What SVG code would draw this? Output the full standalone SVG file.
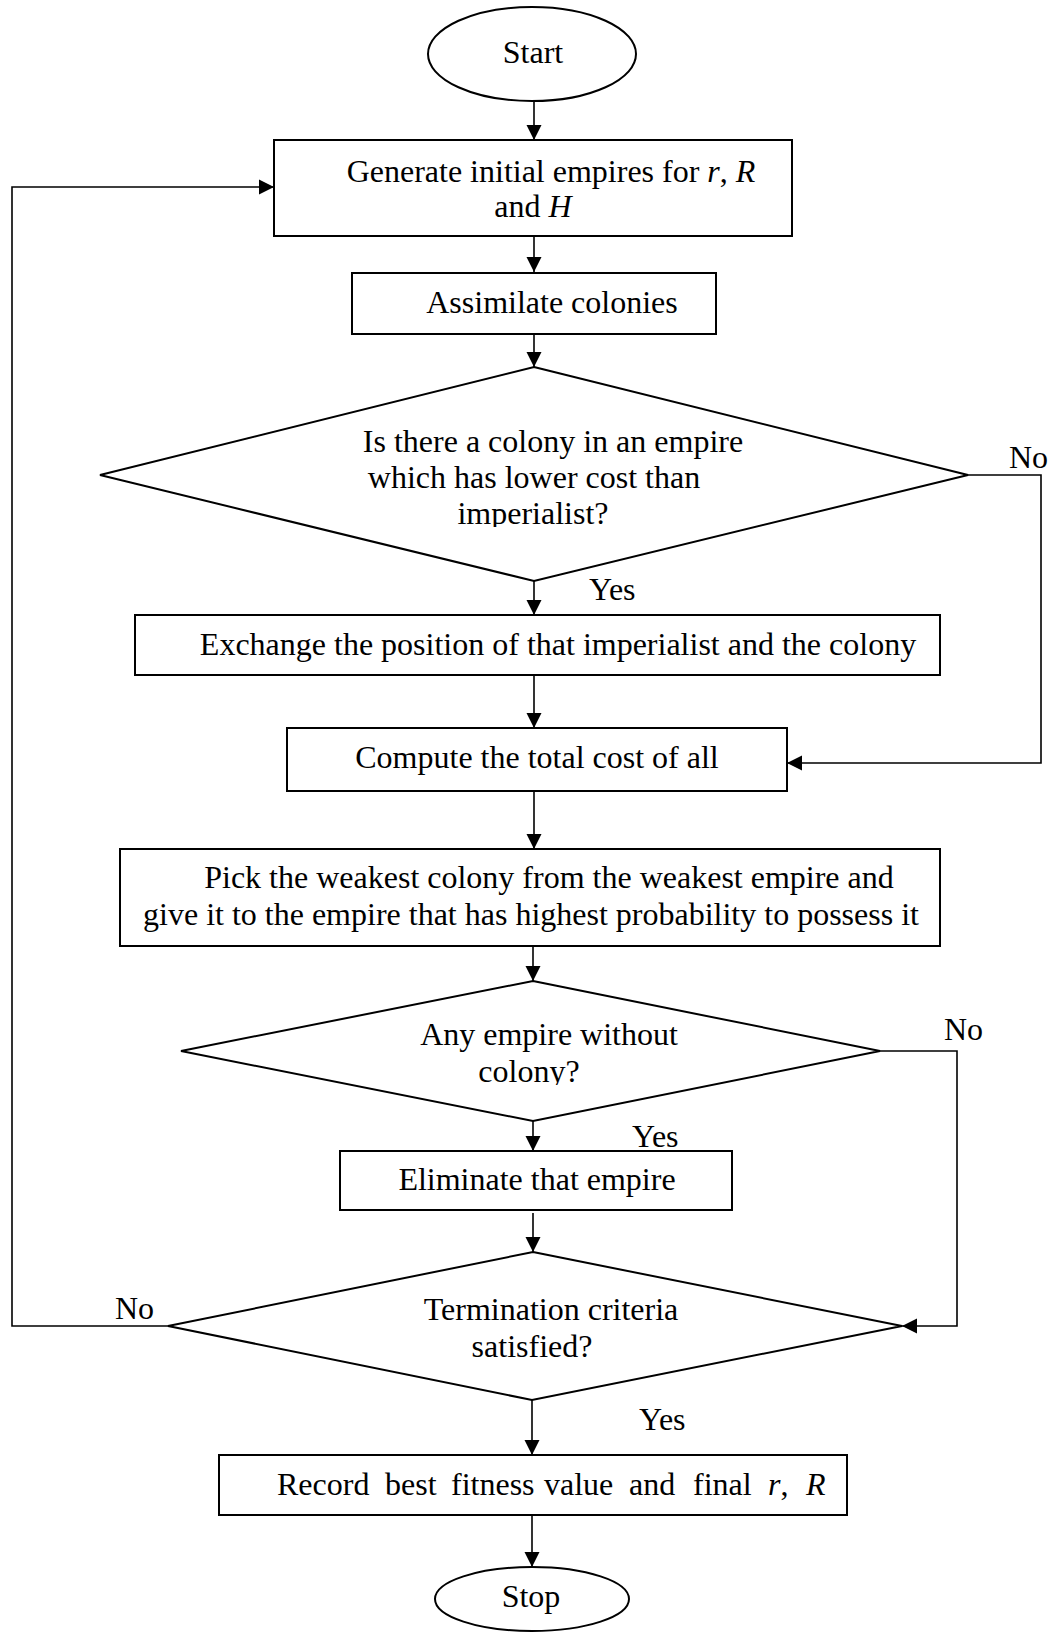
<svg xmlns="http://www.w3.org/2000/svg" width="1054" height="1633" viewBox="0 0 1054 1633">
<style>
.shape{fill:#fff;stroke:#000;stroke-width:2}
.conn{fill:none;stroke:#000;stroke-width:1.6}
text{font-family:"Liberation Serif","Times New Roman",serif;font-size:32px;fill:#000}
.c{text-anchor:middle}
.i{font-style:italic}
</style>
<defs>
<marker id="arr" markerUnits="userSpaceOnUse" markerWidth="16" markerHeight="16" viewBox="0 0 16 16" refX="15" refY="8" orient="auto">
<path d="M0,0.5 L15,8 L0,15.5 Z" fill="#000"/>
</marker>
<clipPath id="clipD1"><rect x="0" y="0" width="1054" height="527"/></clipPath>
<clipPath id="clipD2"><rect x="0" y="0" width="1054" height="1085"/></clipPath>
</defs>
<rect width="1054" height="1633" fill="#fff"/>

<g id="connectors">
<line class="conn" x1="534" y1="101" x2="534" y2="140" marker-end="url(#arr)"/>
<line class="conn" x1="534" y1="236" x2="534" y2="272" marker-end="url(#arr)"/>
<line class="conn" x1="534" y1="334" x2="534" y2="367" marker-end="url(#arr)"/>
<line class="conn" x1="534" y1="581" x2="534" y2="615" marker-end="url(#arr)"/>
<line class="conn" x1="534" y1="675" x2="534" y2="728" marker-end="url(#arr)"/>
<line class="conn" x1="534" y1="791" x2="534" y2="849" marker-end="url(#arr)"/>
<line class="conn" x1="533" y1="946" x2="533" y2="981" marker-end="url(#arr)"/>
<line class="conn" x1="533" y1="1121" x2="533" y2="1151" marker-end="url(#arr)"/>
<line class="conn" x1="533" y1="1213" x2="533" y2="1252" marker-end="url(#arr)"/>
<line class="conn" x1="532" y1="1400" x2="532" y2="1455" marker-end="url(#arr)"/>
<line class="conn" x1="532" y1="1515" x2="532" y2="1567" marker-end="url(#arr)"/>
<polyline class="conn" points="968,475 1041,475 1041,763 787,763" marker-end="url(#arr)"/>
<polyline class="conn" points="880,1051 957,1051 957,1326 902,1326" marker-end="url(#arr)"/>
<polyline class="conn" points="168,1326 12,1326 12,187 274,187" marker-end="url(#arr)"/>
<text x="1009" y="468">No</text>
<text x="589" y="600">Yes</text>
<text x="944" y="1040">No</text>
<text x="632" y="1147">Yes</text>
<text x="115" y="1319">No</text>
<text x="639" y="1430">Yes</text>
</g>

<g id="start">
<ellipse class="shape" cx="532" cy="54" rx="104" ry="47"/>
<text class="c" x="533" y="63">Start</text>
</g>

<g id="generate">
<rect class="shape" x="274" y="140" width="518" height="96"/>
<text class="c" x="551" y="182">Generate initial empires for <tspan class="i">r</tspan>, <tspan class="i">R</tspan></text>
<text class="c" x="533" y="217">and <tspan class="i">H</tspan></text>
</g>

<g id="assimilate">
<rect class="shape" x="352" y="273" width="364" height="61"/>
<text class="c" x="552" y="313">Assimilate colonies</text>
</g>

<g id="decision1">
<polygon class="shape" points="534,367 968,475 534,581 100,475"/>
<g clip-path="url(#clipD1)">
<text class="c" x="553" y="452">Is there a colony in an empire</text>
<text class="c" x="534" y="488">which has lower cost than</text>
<text class="c" x="533" y="524">imperialist?</text>
</g>
</g>

<g id="exchange">
<rect class="shape" x="135" y="615" width="805" height="60"/>
<text class="c" x="558" y="655">Exchange the position of that imperialist and the colony</text>
</g>

<g id="compute">
<rect class="shape" x="287" y="728" width="500" height="63"/>
<text class="c" x="537" y="768">Compute the total cost of all</text>
</g>

<g id="pick">
<rect class="shape" x="120" y="849" width="820" height="97"/>
<text class="c" x="549" y="888">Pick the weakest colony from the weakest empire and</text>
<text class="c" x="531" y="925">give it to the empire that has highest probability to possess it</text>
</g>

<g id="decision2">
<polygon class="shape" points="533,981 880,1051 533,1121 181,1051"/>
<g clip-path="url(#clipD2)">
<text class="c" x="549" y="1045">Any empire without</text>
<text class="c" x="529" y="1082">colony?</text>
</g>
</g>

<g id="eliminate">
<rect class="shape" x="340" y="1151" width="392" height="59"/>
<text class="c" x="537" y="1190">Eliminate that empire</text>
</g>

<g id="decision3">
<polygon class="shape" points="533,1252 902,1326 532,1400 168,1326"/>
<text class="c" x="551" y="1320">Termination criteria</text>
<text class="c" x="532" y="1357">satisfied?</text>
</g>

<g id="record">
<rect class="shape" x="219" y="1455" width="628" height="60"/>
<text y="1495"><tspan x="277">Record</tspan><tspan x="385">best</tspan><tspan x="451">fitness</tspan><tspan x="544">value</tspan><tspan x="629">and</tspan><tspan x="693">final</tspan><tspan x="768" class="i">r</tspan><tspan>,</tspan><tspan x="806" class="i">R</tspan></text>
</g>

<g id="stop">
<ellipse class="shape" cx="532" cy="1599" rx="97" ry="32"/>
<text class="c" x="531" y="1607">Stop</text>
</g>
</svg>
